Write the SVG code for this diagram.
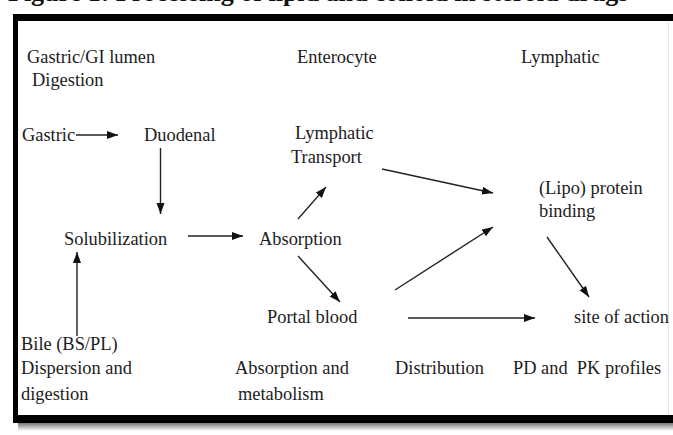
<svg xmlns="http://www.w3.org/2000/svg" width="673" height="435" viewBox="0 0 673 435">
  <defs>
    <style>
      .t { font-family: "Liberation Serif", "Times New Roman", serif; font-size: 18.4px; fill: #1c1c1c; }
      .title { font-family: "Liberation Serif", "Times New Roman", serif; font-size: 26px; font-weight: bold; fill: #111; }
      .c { stroke: #222; stroke-width: 1.4; fill: none; }
    </style>
    <marker id="ah" markerUnits="userSpaceOnUse" markerWidth="12" markerHeight="9" refX="11" refY="4" orient="auto">
      <path d="M0,0 L11,4 L0,8 z" fill="#111"/>
    </marker>
    <linearGradient id="shadow" x1="0" y1="0" x2="0" y2="1">
      <stop offset="0" stop-color="#777"/>
      <stop offset="1" stop-color="#fff"/>
    </linearGradient>
  </defs>
  <rect width="673" height="435" fill="#fff"/>
  <text class="title" x="8" y="1">Figure 1: Processing of lipid and colloid in steroid drugs</text>

  <g id="frame">
    <rect x="18" y="423" width="660" height="8" fill="url(#shadow)"/>
    <path d="M15.5,419 L15.5,17.5 L680,17.5" fill="none" stroke="#000" stroke-width="5"/>
    <line x1="13" y1="17.5" x2="680" y2="17.5" stroke="#000" stroke-width="7"/>
    <line x1="13" y1="419" x2="680" y2="419" stroke="#000" stroke-width="8"/>
    <line x1="668.5" y1="22" x2="668.5" y2="415" stroke="#e6e6e6" stroke-width="1"/>
  </g>

  <g id="headers">
    <text class="t" x="27" y="63">Gastric/GI lumen</text>
    <text class="t" x="32" y="86">Digestion</text>
    <text class="t" x="297" y="63">Enterocyte</text>
    <text class="t" x="521" y="63">Lymphatic</text>
  </g>

  <g id="n-gastric"><text class="t" x="22" y="141">Gastric</text></g>
  <g id="n-duodenal"><text class="t" x="144" y="141">Duodenal</text></g>
  <g id="n-lymph-transport">
    <text class="t" x="295" y="139">Lymphatic</text>
    <text class="t" x="291" y="163">Transport</text>
  </g>
  <g id="n-lipo">
    <text class="t" x="539" y="194">(Lipo) protein</text>
    <text class="t" x="539" y="217">binding</text>
  </g>
  <g id="n-solubilization"><text class="t" x="64" y="245">Solubilization</text></g>
  <g id="n-absorption"><text class="t" x="259" y="245">Absorption</text></g>
  <g id="n-portal"><text class="t" x="267" y="323">Portal blood</text></g>
  <g id="n-site"><text class="t" x="574" y="323">site of action</text></g>
  <g id="n-bile">
    <text class="t" x="21" y="350">Bile (BS/PL)</text>
    <text class="t" x="21" y="374">Dispersion and</text>
    <text class="t" x="21" y="400">digestion</text>
  </g>
  <g id="footers">
    <text class="t" x="235" y="374">Absorption and</text>
    <text class="t" x="238" y="400">metabolism</text>
    <text class="t" x="395" y="374">Distribution</text>
    <text class="t" x="513" y="374" xml:space="preserve">PD and  PK profiles</text>
  </g>

  <g id="connectors">
    <line class="c" x1="76" y1="135" x2="118" y2="135" marker-end="url(#ah)"/>
    <line class="c" x1="160.5" y1="148" x2="160.5" y2="214" marker-end="url(#ah)"/>
    <line class="c" x1="188" y1="236" x2="243" y2="236" marker-end="url(#ah)"/>
    <line class="c" x1="77" y1="336" x2="77" y2="252" marker-end="url(#ah)"/>
    <line class="c" x1="298" y1="219" x2="326" y2="187" marker-end="url(#ah)"/>
    <line class="c" x1="298" y1="256" x2="340" y2="302" marker-end="url(#ah)"/>
    <line class="c" x1="382" y1="169" x2="493" y2="193" marker-end="url(#ah)"/>
    <line class="c" x1="395" y1="290" x2="493" y2="227" marker-end="url(#ah)"/>
    <line class="c" x1="547" y1="237" x2="589" y2="297" marker-end="url(#ah)"/>
    <line class="c" x1="408" y1="318" x2="535" y2="318" marker-end="url(#ah)"/>
  </g>
</svg>
